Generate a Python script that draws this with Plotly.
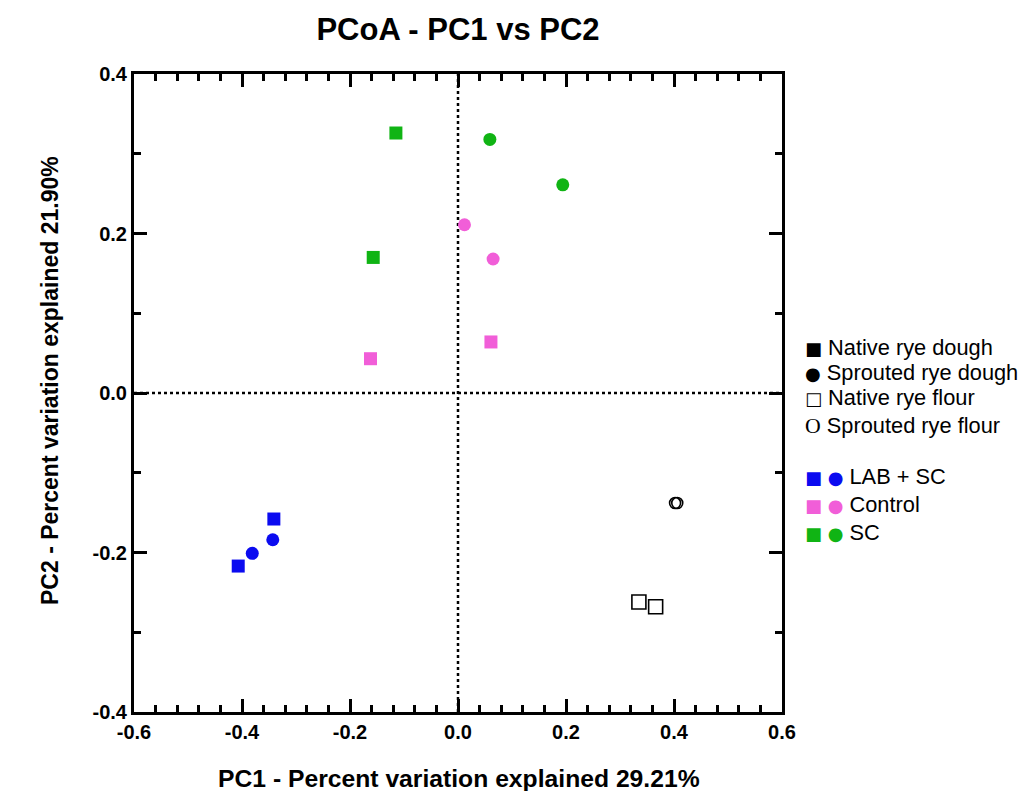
import plotly.graph_objects as go

# ---- data ----
lab_sc_native_x = [-0.407, -0.341]
lab_sc_native_y = [-0.217, -0.158]
lab_sc_sprout_x = [-0.381, -0.343]
lab_sc_sprout_y = [-0.201, -0.184]

control_native_x = [-0.162, 0.061]
control_native_y = [0.043, 0.064]
control_sprout_x = [0.012, 0.065]
control_sprout_y = [0.211, 0.168]

sc_native_x = [-0.115, -0.157]
sc_native_y = [0.326, 0.170]
sc_sprout_x = [0.059, 0.194]
sc_sprout_y = [0.318, 0.261]

native_flour_x = [0.335, 0.366]
native_flour_y = [-0.262, -0.268]
sprout_flour_x = [0.402, 0.406]
sprout_flour_y = [-0.138, -0.138]

x_tickvals = [-0.6, -0.4, -0.2, 0.0, 0.2, 0.4, 0.6]
x_ticktext = ["-0.6", "-0.4", "-0.2", "0.0", "0.2", "0.4", "0.6"]
y_tickvals = [-0.4, -0.2, 0.0, 0.2, 0.4]
y_ticktext = ["-0.4", "-0.2", "0.0", "0.2", "0.4"]

BLUE = "#0b0bf0"
PINK = "#f15ed8"
GREEN = "#10b414"
FONT = "Liberation Sans, Arial"

fig = go.Figure()

def add(xs, ys, symbol, color, size=13, line_w=0, line_c=None):
    fig.add_trace(go.Scatter(
        x=xs, y=ys, mode="markers",
        marker=dict(symbol=symbol, color=color, size=size,
                    line=dict(width=line_w, color=line_c or color)),
        showlegend=False, hoverinfo="skip"))

add(lab_sc_native_x, lab_sc_native_y, "square", BLUE)
add(lab_sc_sprout_x, lab_sc_sprout_y, "circle", BLUE)
add(control_native_x, control_native_y, "square", PINK)
add(control_sprout_x, control_sprout_y, "circle", PINK)
add(sc_native_x, sc_native_y, "square", GREEN)
add(sc_sprout_x, sc_sprout_y, "circle", GREEN)
add(native_flour_x, native_flour_y, "square-open", "black", size=14, line_w=1.6)
add(sprout_flour_x, sprout_flour_y, "circle-open", "black", size=11, line_w=1.6)

# dotted zero lines
fig.add_shape(type="line", xref="x", yref="paper", x0=0, x1=0, y0=0, y1=1,
              line=dict(color="black", width=2.5, dash="dot"), layer="below")
fig.add_shape(type="line", xref="paper", yref="y", x0=0, x1=1, y0=0, y1=0,
              line=dict(color="black", width=2.5, dash="dot"), layer="below")

# custom legend
G = "<span style='font-family:DejaVu Sans;font-size:18px'>{}</span>"
legend_items = [
    (G.format("■") + " Native rye dough", 347),
    (G.format("●") + " Sprouted rye dough", 372),
    (G.format("□") + " Native rye flour", 397),
    ("<span style='font-family:Liberation Serif'>O</span> Sprouted rye flour", 425),
    (f"<span style='color:{BLUE};font-family:DejaVu Sans;font-size:18px'>■ ●</span> LAB + SC", 476),
    (f"<span style='color:{PINK};font-family:DejaVu Sans;font-size:18px'>■ ●</span> Control", 504),
    (f"<span style='color:{GREEN};font-family:DejaVu Sans;font-size:18px'>■ ●</span> SC", 532),
]
for txt, py in legend_items:
    fig.add_annotation(
        text=txt, xref="paper", yref="paper",
        x=(803 - 134) / 648, y=(712 - py) / 638,
        xanchor="left", yanchor="middle", showarrow=False,
        font=dict(family=FONT, size=21.8, color="black"))

# axis titles as annotations for exact placement
fig.add_annotation(
    text="<b>PC1 - Percent variation explained 29.21%</b>",
    xref="paper", yref="paper", x=(459 - 134) / 648, y=(712 - 778) / 638,
    xanchor="center", yanchor="middle", showarrow=False,
    font=dict(family=FONT, size=24.7, color="black"))
fig.add_annotation(
    text="<b>PC2 - Percent variation explained 21.90%</b>",
    xref="paper", yref="paper", x=(50 - 134) / 648, y=(712 - 381) / 638,
    xanchor="center", yanchor="middle", showarrow=False, textangle=-90,
    font=dict(family=FONT, size=23, color="black"))

axis_common = dict(
    showline=True, linewidth=3, linecolor="black", mirror="ticks",
    ticks="inside", ticklen=13, tickwidth=2.5, tickcolor="black",
    showgrid=False, zeroline=False,
    tickfont=dict(family=FONT, size=20, color="black"),
)

fig.update_xaxes(
    range=[-0.6, 0.6], tickvals=x_tickvals, ticktext=["<b>" + t + "</b>" for t in x_ticktext],
    minor=dict(ticks="inside", ticklen=7, tickwidth=2.5, tickcolor="black", dtick=0.04, tick0=-0.6),
    **axis_common)
fig.update_yaxes(
    range=[-0.4, 0.4], tickvals=y_tickvals, ticktext=["<b>" + t + "</b>" for t in y_ticktext],
    minor=dict(ticks="inside", ticklen=7, tickwidth=2.5, tickcolor="black", dtick=0.1, tick0=-0.4),
    **axis_common)

fig.update_layout(
    width=1029, height=791,
    margin=dict(l=134, r=247, t=74, b=79, autoexpand=False),
    plot_bgcolor="white", paper_bgcolor="white",
    title=dict(text="<b>PCoA - PC1 vs PC2</b>", x=458 / 1029, xanchor="center",
               y=1 - 29 / 791, yanchor="middle",
               font=dict(family=FONT, size=31, color="black")),
    font=dict(family=FONT, color="black"),
)

fig.write_html("out.html")
